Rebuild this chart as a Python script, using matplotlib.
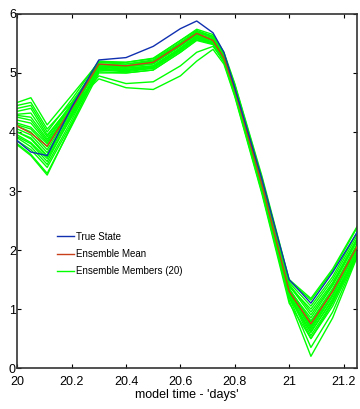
'''
Ensemble forecast vs true state, MATLAB-style line chart.
'''

from matplotlib import pyplot as plt

# model time knots (days)
time = [20.0, 20.05, 20.11, 20.2, 20.3, 20.4, 20.5, 20.6, 20.66, 20.72,
        20.76, 20.8, 20.9, 21.0, 21.08, 21.16, 21.25]

true_state = [3.85, 3.66, 3.60, 4.42, 5.22, 5.26, 5.45, 5.75, 5.88, 5.68,
              5.35, 4.75, 3.20, 1.50, 1.10, 1.62, 2.30]

ens_mean = [4.10, 3.98, 3.76, 4.40, 5.15, 5.12, 5.18, 5.48, 5.67, 5.55,
            5.25, 4.72, 3.10, 1.30, 0.75, 1.30, 2.06]

members = [
    [4.50, 4.58, 4.12, 4.62, 5.18, 5.15, 5.22, 5.52, 5.70, 5.60, 5.30, 4.78, 3.20, 1.42, 0.95, 1.45, 2.20],
    [4.40, 4.45, 4.00, 4.55, 5.20, 5.18, 5.25, 5.55, 5.72, 5.62, 5.32, 4.80, 3.22, 1.45, 1.05, 1.55, 2.30],
    [4.30, 4.32, 3.92, 4.48, 5.12, 5.10, 5.15, 5.45, 5.65, 5.55, 5.25, 4.72, 3.12, 1.35, 0.80, 1.35, 2.10],
    [4.25, 4.20, 3.85, 4.45, 5.15, 5.12, 5.18, 5.48, 5.66, 5.58, 5.28, 4.75, 3.15, 1.30, 0.72, 1.30, 2.05],
    [4.15, 4.08, 3.80, 4.42, 5.10, 5.08, 5.12, 5.42, 5.62, 5.52, 5.22, 4.70, 3.10, 1.28, 0.65, 1.22, 2.00],
    [4.10, 4.00, 3.70, 4.38, 5.08, 5.05, 5.10, 5.40, 5.60, 5.50, 5.20, 4.68, 3.05, 1.25, 0.60, 1.18, 1.95],
    [4.05, 3.95, 3.65, 4.35, 5.12, 5.10, 5.16, 5.46, 5.64, 5.55, 5.25, 4.72, 3.10, 1.22, 0.50, 1.10, 1.92],
    [4.00, 3.90, 3.60, 4.30, 5.05, 5.02, 5.08, 5.38, 5.58, 5.50, 5.20, 4.66, 3.02, 1.20, 0.35, 0.95, 1.90],
    [3.95, 3.82, 3.55, 4.25, 5.02, 5.00, 5.05, 5.35, 5.55, 5.48, 5.18, 4.62, 2.98, 1.15, 0.20, 0.85, 1.88],
    [3.90, 3.75, 3.45, 4.20, 5.10, 5.08, 5.12, 5.42, 5.62, 5.55, 5.25, 4.70, 3.08, 1.30, 0.70, 1.25, 2.02],
    [3.85, 3.70, 3.40, 4.15, 5.05, 5.05, 5.10, 5.40, 5.60, 5.52, 5.22, 4.68, 3.05, 1.32, 0.85, 1.40, 2.15],
    [3.80, 3.62, 3.30, 4.10, 5.00, 5.00, 5.05, 5.35, 5.56, 5.50, 5.20, 4.65, 3.02, 1.38, 1.00, 1.50, 2.25],
    [3.78, 3.60, 3.27, 4.12, 5.08, 5.12, 5.20, 5.50, 5.68, 5.60, 5.30, 4.78, 3.18, 1.48, 1.15, 1.65, 2.38],
    [4.20, 4.15, 3.82, 4.40, 4.95, 4.82, 4.85, 5.12, 5.35, 5.45, 5.20, 4.65, 3.00, 1.20, 0.62, 1.15, 1.95],
    [4.35, 4.40, 3.95, 4.45, 4.90, 4.75, 4.72, 4.95, 5.20, 5.40, 5.15, 4.60, 2.95, 1.10, 0.50, 1.05, 1.90],
    [4.45, 4.50, 4.05, 4.50, 5.15, 5.15, 5.20, 5.50, 5.70, 5.62, 5.32, 4.78, 3.18, 1.40, 0.90, 1.42, 2.18],
    [4.12, 4.05, 3.75, 4.40, 5.18, 5.18, 5.24, 5.55, 5.74, 5.65, 5.35, 4.82, 3.25, 1.50, 1.18, 1.68, 2.40],
    [4.00, 3.88, 3.58, 4.32, 5.14, 5.12, 5.18, 5.48, 5.66, 5.56, 5.26, 4.74, 3.12, 1.28, 0.68, 1.24, 2.00],
    [3.92, 3.80, 3.50, 4.28, 5.06, 5.04, 5.08, 5.38, 5.58, 5.50, 5.20, 4.68, 3.06, 1.24, 0.55, 1.12, 1.95],
    [4.28, 4.25, 3.88, 4.46, 5.10, 5.06, 5.10, 5.40, 5.60, 5.52, 5.22, 4.70, 3.08, 1.34, 0.78, 1.32, 2.08],
]

x_ticks = [20, 20.2, 20.4, 20.6, 20.8, 21, 21.2]
x_labels = ['20', '20.2', '20.4', '20.6', '20.8', '21', '21.2']
y_ticks = [0, 1, 2, 3, 4, 5, 6]

plt.rcParams['font.family'] = ['Liberation Sans', 'DejaVu Sans']

fig = plt.figure(figsize=(3.6, 4.09), dpi=100)
ax = fig.add_axes([0.048, 0.100, 0.944, 0.866])

for i, m in enumerate(members):
    ax.plot(time, m, color='#00ff00', lw=1.0,
            label='Ensemble Members (20)' if i == 0 else None, zorder=2)
ax.plot(time, ens_mean, color='#c8401a', lw=1.0, label='Ensemble Mean',
        zorder=3)
ax.plot(time, true_state, color='#1030b0', lw=1.0, label='True State',
        zorder=4)

ax.set_xlim(20, 21.25)
ax.set_ylim(0, 6)
ax.set_xticks(x_ticks)
ax.set_xticklabels(x_labels)
ax.set_yticks(y_ticks)
ax.tick_params(direction='in', length=3, width=0.8, labelsize=9,
               top=True, right=True)
ax.tick_params(axis='y', pad=1)
ax.tick_params(axis='x', pad=5.5)
for s in ax.spines.values():
    s.set_linewidth(1.2)
    s.set_color('#333333')
ax.set_xlabel("model time - 'days'", fontsize=9, labelpad=1)

handles, labels = ax.get_legend_handles_labels()
order = [2, 1, 0]
ax.legend([handles[k] for k in order], [labels[k] for k in order],
          loc='upper left', bbox_to_anchor=(0.09, 0.41), frameon=False,
          fontsize=7, handlelength=1.8, handletextpad=0.2,
          labelspacing=0.75)

plt.savefig('out.png', dpi=100)
